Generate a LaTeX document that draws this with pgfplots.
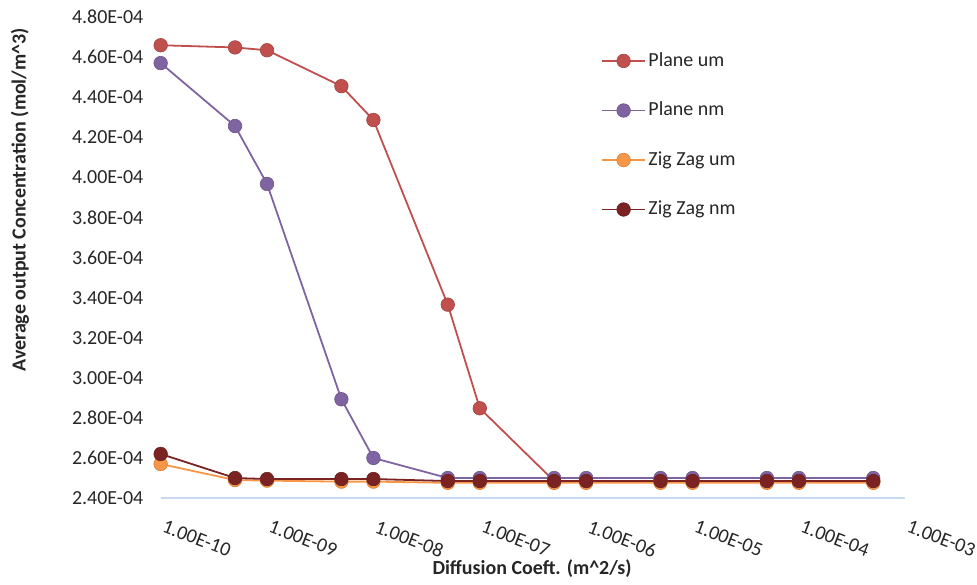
\documentclass[border=0pt]{standalone}
\usepackage{pgfplots}
\pgfplotsset{compat=1.18}
\usepackage{fontspec}
\setmainfont{Carlito}
\definecolor{cred}{HTML}{C0504D}
\definecolor{cpurple}{HTML}{8064A2}
\definecolor{corange}{HTML}{F79646}
\definecolor{cdred}{HTML}{7B2323}
\definecolor{axblue}{HTML}{C6D9F1}
\definecolor{txt}{HTML}{262626}
\pgfplotstableread{
x        pu       pn       zu       zn
1e-10    4.659e-4 4.570e-4 2.570e-4 2.620e-4
5e-10    4.648e-4 4.256e-4 2.490e-4 2.500e-4
1e-9     4.634e-4 3.967e-4 2.487e-4 2.495e-4
5e-9     4.455e-4 2.893e-4 2.482e-4 2.495e-4
1e-8     4.286e-4 2.600e-4 2.482e-4 2.495e-4
5e-8     3.365e-4 2.500e-4 2.476e-4 2.485e-4
1e-7     2.848e-4 2.500e-4 2.476e-4 2.485e-4
5e-7     2.485e-4 2.500e-4 2.476e-4 2.485e-4
1e-6     2.485e-4 2.500e-4 2.476e-4 2.485e-4
5e-6     2.485e-4 2.500e-4 2.476e-4 2.485e-4
1e-5     2.485e-4 2.500e-4 2.476e-4 2.485e-4
5e-5     2.485e-4 2.500e-4 2.476e-4 2.485e-4
1e-4     2.485e-4 2.500e-4 2.476e-4 2.485e-4
5e-4     2.485e-4 2.500e-4 2.476e-4 2.485e-4
}\datatable
\begin{document}
\begin{tikzpicture}
\begin{axis}[
  scale only axis,
  width=373pt, height=241pt,
  xmode=log,
  xmin=1e-10, xmax=1e-3,
  ymin=2.4e-4, ymax=4.8e-4,
  axis lines*=left,
  x axis line style={draw=axblue, line width=0.6pt},
  y axis line style={draw=none},
  major tick length=0pt,
  minor tick length=0pt,
  xminorticks=false,
  scaled y ticks=false,
  xtick={1e-10,1e-9,1e-8,1e-7,1e-6,1e-5,1e-4,1e-3},
  xticklabels={1.00E-10,1.00E-09,1.00E-08,1.00E-07,1.00E-06,1.00E-05,1.00E-04,1.00E-03},
  ytick={2.4e-4,2.6e-4,2.8e-4,3.0e-4,3.2e-4,3.4e-4,3.6e-4,3.8e-4,4.0e-4,4.2e-4,4.4e-4,4.6e-4,4.8e-4},
  yticklabels={2.40E-04,2.60E-04,2.80E-04,3.00E-04,3.20E-04,3.40E-04,3.60E-04,3.80E-04,4.00E-04,4.20E-04,4.40E-04,4.60E-04,4.80E-04},
  /pgf/number format/assume math mode=true,
  xticklabel style={font=\fontsize{10}{12}\selectfont, text=txt, xshift=2.5pt, yshift=-10.5pt, rotate=-21, anchor=north west, inner sep=0pt},
  yticklabel style={font=\fontsize{10}{12}\selectfont, text=txt, anchor=east, inner sep=0pt, xshift=-8.5pt},
  xlabel={Diffusion Coeft. (m\textasciicircum 2/s)},
  ylabel={Average output Concentration (mol/m\textasciicircum 3)},
  xlabel style={font=\fontsize{10}{12}\selectfont\bfseries, text=txt, at={(rel axis cs:0.4987,-0.147)}, anchor=center},
  ylabel style={font=\fontsize{10}{12}\selectfont\bfseries, text=txt, at={(rel axis cs:-0.189,0.62)}, anchor=center, rotate=0},
  legend style={at={(rel axis cs:0.591,0.932)}, anchor=north west, draw=none, fill=none,
    font=\fontsize{10}{12}\selectfont, text=txt, row sep=14pt, inner sep=0pt,
    nodes={inner sep=1.2pt}},
  legend cell align=left,
  legend image code/.code={\draw[mark repeat=2,mark phase=2] plot coordinates {(0cm,0cm)(0.38cm,0cm)(0.76cm,0cm)};},
  clip=false,
  every axis plot/.append style={line width=0.9pt, mark=*, mark size=3.4pt},
]
\addplot[cred, mark options={fill=cred, draw=cred!85!black, line width=0.3pt}] table[x=x,y=pu] {\datatable};
\addlegendentry{Plane um}
\addplot[cpurple, mark options={fill=cpurple, draw=cpurple!85!black, line width=0.3pt}] table[x=x,y=pn] {\datatable};
\addlegendentry{Plane nm}
\addplot[corange, mark options={fill=corange, draw=corange!85!black, line width=0.3pt}] table[x=x,y=zu] {\datatable};
\addlegendentry{Zig Zag um}
\addplot[cdred, mark options={fill=cdred, draw=cdred!85!black, line width=0.3pt}] table[x=x,y=zn] {\datatable};
\addlegendentry{Zig Zag nm}
\coordinate (BL) at (rel axis cs:-0.2158,-0.168);
\coordinate (TR) at (rel axis cs:1.0938,1.0353);
\end{axis}
\path (BL) rectangle (TR);
\end{tikzpicture}
\end{document}
